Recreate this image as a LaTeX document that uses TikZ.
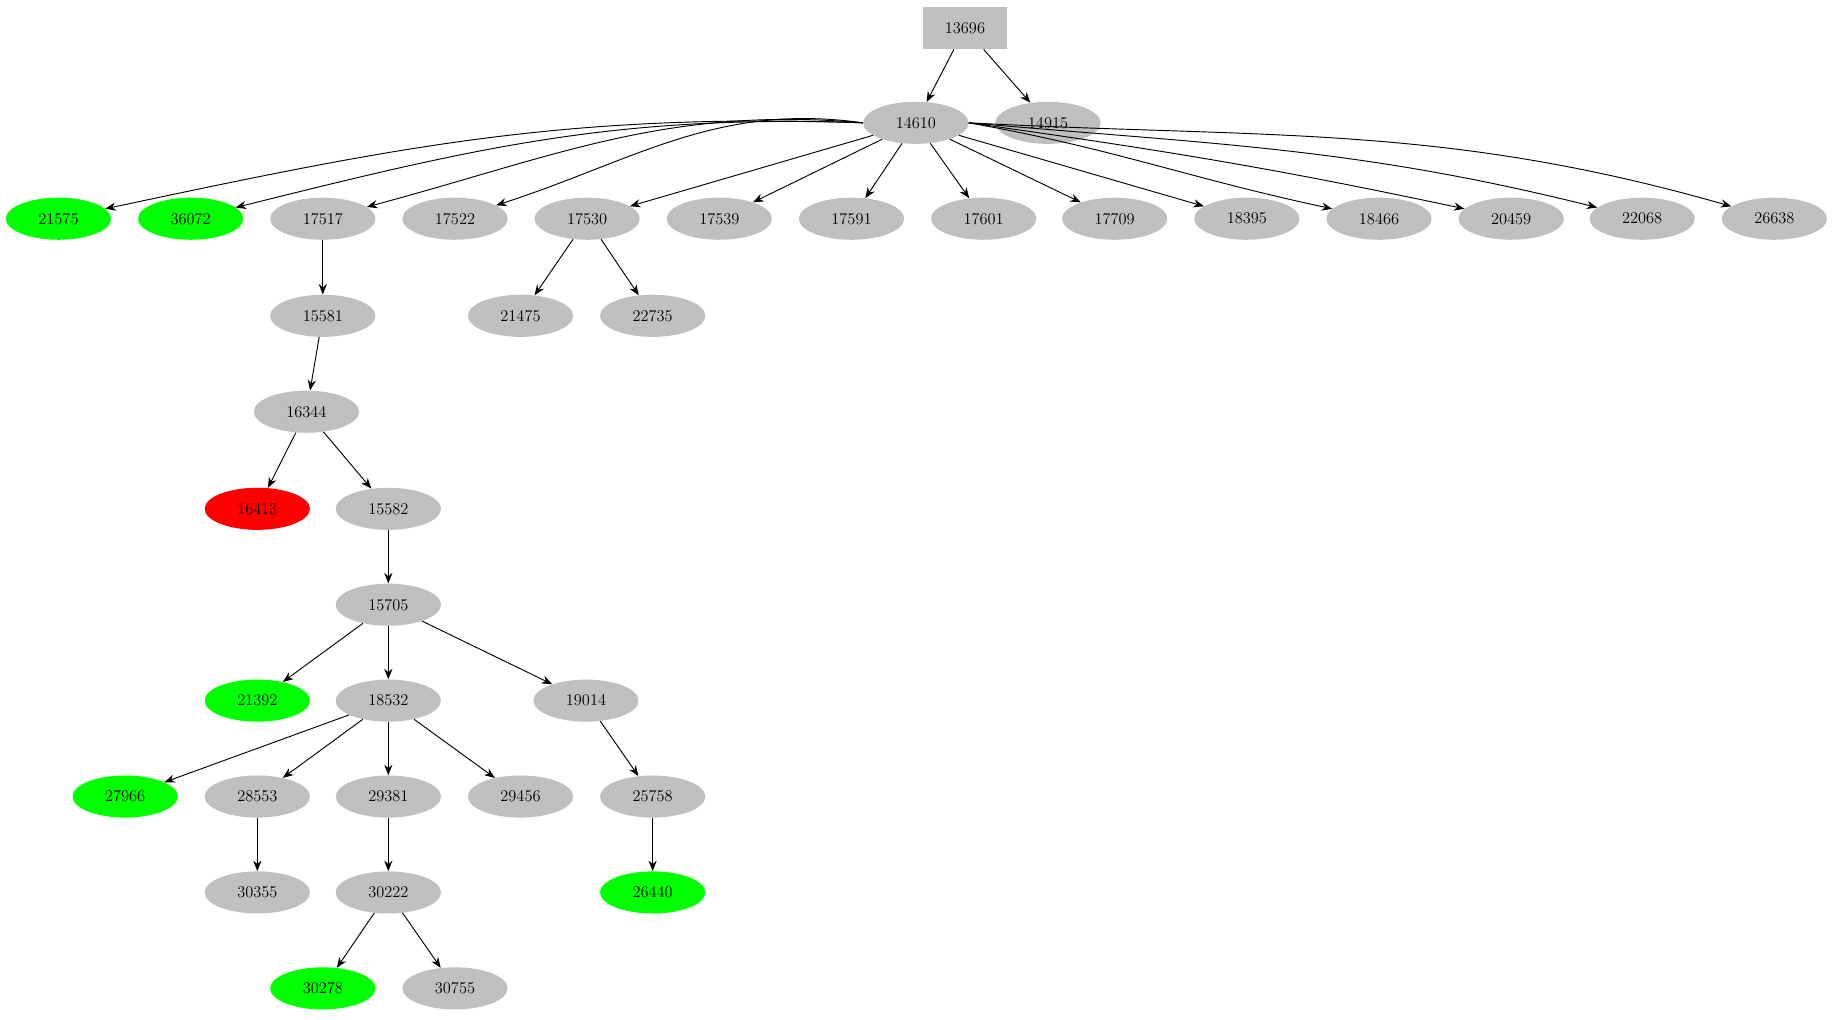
\documentclass[tikz,border=0pt]{standalone}
\usetikzlibrary{shapes.geometric,arrows.meta}
\tikzset{
  vert/.style={ellipse, fill=lightgray, minimum width=90pt, minimum height=36pt, inner sep=0pt, font=\fontsize{14}{17}\selectfont},
  good/.style={vert, fill=green},
  bad/.style={vert, fill=red},
  root/.style={rectangle, fill=lightgray, minimum width=72pt, minimum height=36pt, font=\fontsize{14}{17}\selectfont},
  link/.style={-{Stealth[length=9pt,width=7pt]}, line width=0.8pt}
}
\begin{document}
\begin{tikzpicture}[x=1pt,y=-1pt]
\useasboundingbox (0,0) rectangle (1568,872);

% top
\node[root] (n13696) at (825,24) {13696};
\node[vert] (n14610) at (783,105) {14610};
\node[vert] (n14915) at (896,105) {14915};

% first row
\node[good] (n21575) at (50,187) {21575};
\node[good] (n36072) at (163,187) {36072};
\node[vert] (n17517) at (276,187) {17517};
\node[vert] (n17522) at (389,187) {17522};
\node[vert] (n17530) at (502,187) {17530};
\node[vert] (n17539) at (615,187) {17539};
\node[vert] (n17591) at (728,187) {17591};
\node[vert] (n17601) at (841,187) {17601};
\node[vert] (n17709) at (953,187) {17709};
\node[vert] (n18395) at (1066,187) {18395};
\node[vert] (n18466) at (1179,187) {18466};
\node[vert] (n20459) at (1292,187) {20459};
\node[vert] (n22068) at (1404,187) {22068};
\node[vert] (n26638) at (1517,187) {26638};

% lower part
\node[vert] (n15581) at (276,270) {15581};
\node[vert] (n21475) at (445,270) {21475};
\node[vert] (n22735) at (558,270) {22735};
\node[vert] (n16344) at (262,352) {16344};
\node[bad]  (n16413) at (220,435) {16413};
\node[vert] (n15582) at (332,435) {15582};
\node[vert] (n15705) at (332,517) {15705};
\node[good] (n21392) at (220,599) {21392};
\node[vert] (n18532) at (332,599) {18532};
\node[vert] (n19014) at (501,599) {19014};
\node[good] (n27966) at (107,681) {27966};
\node[vert] (n28553) at (220,681) {28553};
\node[vert] (n29381) at (332,681) {29381};
\node[vert] (n29456) at (445,681) {29456};
\node[vert] (n25758) at (558,681) {25758};
\node[vert] (n30355) at (220,763) {30355};
\node[vert] (n30222) at (332,763) {30222};
\node[good] (n26440) at (558,763) {26440};
\node[good] (n30278) at (276,845) {30278};
\node[vert] (n30755) at (389,845) {30755};

\draw[link] (n13696) -- (n14610);
\draw[link] (n13696) -- (n14915);

\draw[link] (n14610.west) to[out=178,in=12] (n21575);
\draw[link] (n14610.west) to[out=178,in=14] (n36072);
\draw[link] (n14610.west) to[out=175,in=15] (n17517);
\draw[link] (n14610.west) to[out=172,in=18] (n17522);
\foreach \t in {17530,17539,17591,17601,17709,18395}
  \draw[link] (n14610) -- (n\t);
\draw[link] (n14610.east) to[out=-10,in=168] (n18466);
\draw[link] (n14610.east) to[out=-8,in=168] (n20459);
\draw[link] (n14610.east) to[out=-5,in=166] (n22068);
\draw[link] (n14610.east) to[out=-3,in=164] (n26638);

\draw[link] (n17517) -- (n15581);
\draw[link] (n17530) -- (n21475);
\draw[link] (n17530) -- (n22735);
\draw[link] (n15581) -- (n16344);
\draw[link] (n16344) -- (n16413);
\draw[link] (n16344) -- (n15582);
\draw[link] (n15582) -- (n15705);
\draw[link] (n15705) -- (n21392);
\draw[link] (n15705) -- (n18532);
\draw[link] (n15705) -- (n19014);
\draw[link] (n18532) -- (n27966);
\draw[link] (n18532) -- (n28553);
\draw[link] (n18532) -- (n29381);
\draw[link] (n18532) -- (n29456);
\draw[link] (n19014) -- (n25758);
\draw[link] (n28553) -- (n30355);
\draw[link] (n29381) -- (n30222);
\draw[link] (n25758) -- (n26440);
\draw[link] (n30222) -- (n30278);
\draw[link] (n30222) -- (n30755);
\end{tikzpicture}
\end{document}
